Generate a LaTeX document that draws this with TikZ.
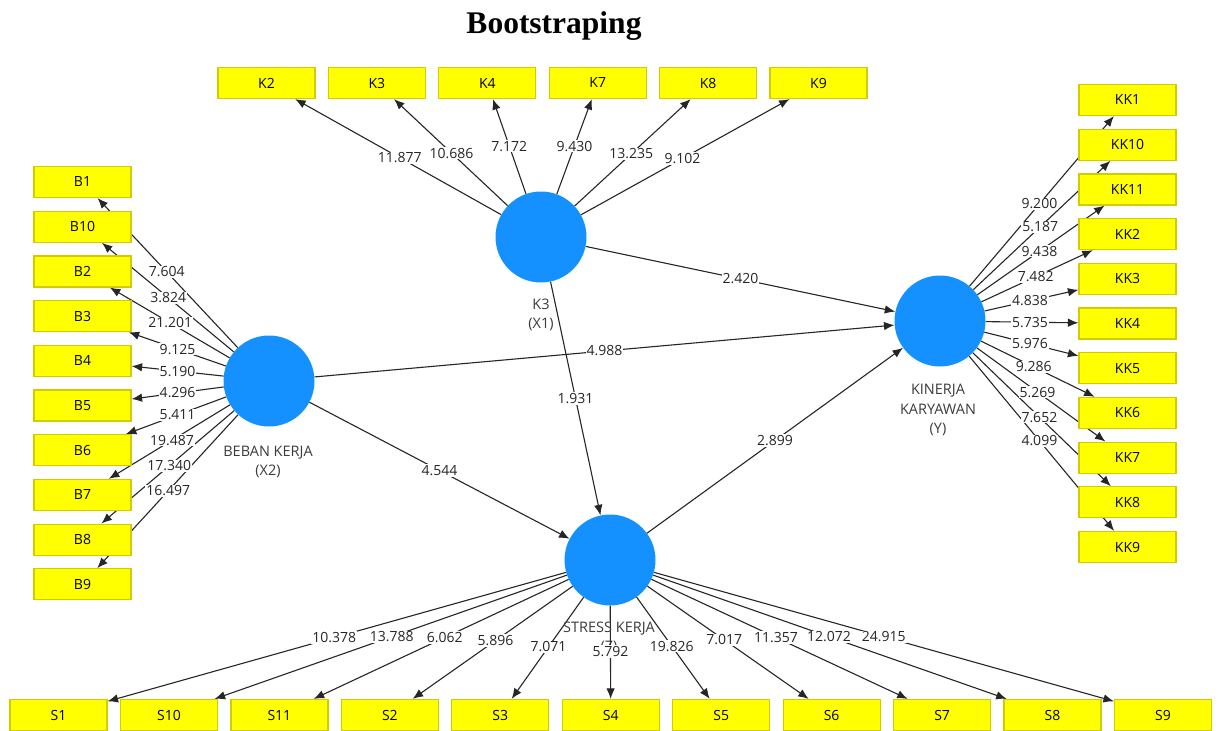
\documentclass[tikz,border=0pt]{standalone}
\usepackage{fontspec}
\setmainfont{Open Sans}
\newfontfamily\titlefont{Liberation Serif}
\usetikzlibrary{arrows.meta}
\pgfdeclarelayer{bg}
\pgfsetlayers{bg,main}
\definecolor{lvblue}{HTML}{1591FF}
\definecolor{indyel}{HTML}{FFFF00}
\definecolor{indbord}{HTML}{D4CA00}
\definecolor{txt}{HTML}{262626}
\begin{document}
\begin{tikzpicture}[x=1pt,y=-1pt,
 ind/.style={draw=indbord, fill=indyel, line width=1.2pt, minimum width=97pt, minimum height=31pt, inner sep=0pt, font=\fontsize{14}{15}\selectfont, text=black},
 lv/.style={circle, fill=lvblue, minimum size=91pt, inner sep=0pt},
 lvlbl/.style={font=\fontsize{14.5}{19.5}\selectfont, text=txt!90, align=center},
 conn/.style={draw=black!85, line width=1.1pt, -{Latex[length=10.5pt,width=8.5pt]}},
 val/.style={fill=white, inner sep=1pt, font=\fontsize{14}{16}\selectfont, text=txt}]
\useasboundingbox (0,0) rectangle (1219,731);
\begin{pgfonlayer}{bg}
\fill[white] (0,0) rectangle (1219,731);
\end{pgfonlayer}

\node[font=\titlefont\bfseries\fontsize{31.5}{36}\selectfont, anchor=base] (title) at (554,33) {Bootstraping};

% latent variables
\node[lv] (x1) at (541,237) {};
\node[lv] (x2) at (269,381) {};
\node[lv] (y) at (940,321) {};
\node[lv] (z) at (610,560) {};
\node[lvlbl] (x1lbl) at (541,315) {K3\\(X1)};
\node[lvlbl] (x2lbl) at (268,462) {BEBAN KERJA\\(X2)};
\node[lvlbl] (ylbl) at (938,410) {KINERJA\\KARYAWAN\\(Y)};
\node[lvlbl] (zlbl) at (609,638) {STRESS KERJA\\(Z)};

% indicators
\foreach \n [count=\i from 0] in {K2,K3,K4,K7,K8,K9}
  \node[ind] (\n) at ({266.5+110.4*\i},83) {\n};
\foreach \n [count=\i from 0] in {B1,B10,B2,B3,B4,B5,B6,B7,B8,B9}
  \node[ind] (\n) at (82.5,{182+44.7*\i}) {\n};
\foreach \n [count=\i from 0] in {KK1,KK10,KK11,KK2,KK3,KK4,KK5,KK6,KK7,KK8,KK9}
  \node[ind] (\n) at (1127.5,{100+44.7*\i}) {\n};
\foreach \n [count=\i from 0] in {S1,S10,S11,S2,S3,S4,S5,S6,S7,S8,S9}
  \node[ind] (\n) at ({58.5+110.45*\i},715) {\n};

% outer model
\foreach \n/\v/\p in {K2/11.877/0.515,K3/10.686/0.545,K4/7.172/0.59,K7/9.430/0.59,K8/13.235/0.54,K9/9.102/0.51}{
  \begin{pgfonlayer}{bg}\draw[conn] (x1) -- (\n);\end{pgfonlayer}
  \path (x1.center) -- node[val,pos=\p] {\v} (\n.center);
}
\foreach \n/\v/\p in {B1/7.604/0.548,B10/3.824/0.54,B2/21.201/0.53,B3/9.125/0.49,B4/5.190/0.49,B5/4.296/0.49,B6/5.411/0.49,B7/19.487/0.52,B8/17.340/0.535,B9/16.497/0.54}{
  \begin{pgfonlayer}{bg}\draw[conn] (x2) -- (\n);\end{pgfonlayer}
  \path (x2.center) -- node[val,pos=\p] {\v} (\n.center);
}
\foreach \n/\v/\p in {KK1/9.200/0.53,KK10/5.187/0.535,KK11/9.438/0.53,KK2/7.482/0.51,KK3/4.838/0.48,KK4/5.735/0.48,KK5/5.976/0.48,KK6/9.286/0.5,KK7/5.269/0.52,KK8/7.652/0.53,KK9/4.099/0.53}{
  \begin{pgfonlayer}{bg}\draw[conn] (y) -- (\n);\end{pgfonlayer}
  \path (y.center) -- node[val,pos=\p] {\v} (\n.center);
}
\foreach \n/\v/\p in {S1/10.378/0.5,S10/13.788/0.495,S11/6.062/0.5,S2/5.896/0.52,S3/7.071/0.56,S4/5.792/0.59,S5/19.826/0.555,S6/7.017/0.515,S7/11.357/0.5,S8/12.072/0.495,S9/24.915/0.495}{
  \begin{pgfonlayer}{bg}\draw[conn] (z) -- (\n);\end{pgfonlayer}
  \path (z.center) -- node[val,pos=\p] {\v} (\n.center);
}

% inner model
\foreach \a/\b/\v in {x1/y/2.420,x2/y/4.988,x1/z/1.931,x2/z/4.544,z/y/2.899}{
  \begin{pgfonlayer}{bg}\draw[conn] (\a) -- (\b);\end{pgfonlayer}
  \path (\a.center) -- node[val,pos=0.5] {\v} (\b.center);
}
\end{tikzpicture}
\end{document}
